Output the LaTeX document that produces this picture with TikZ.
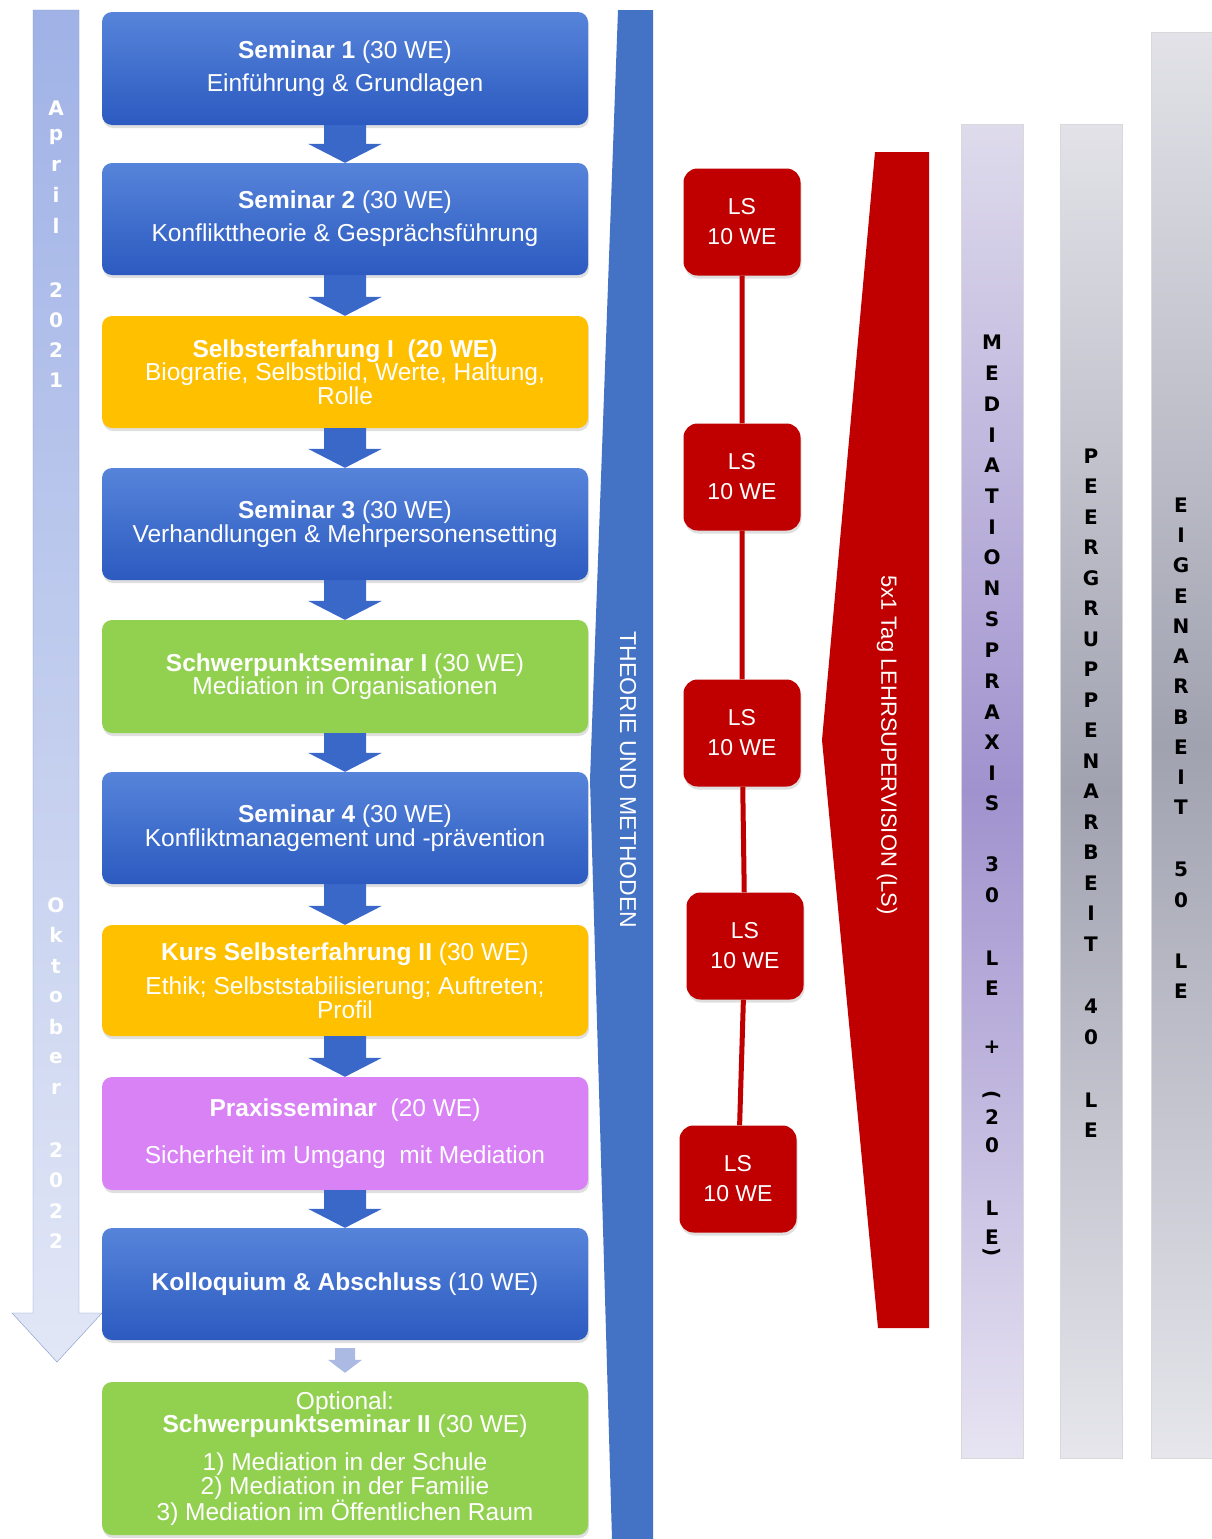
\documentclass[tikz,border=0pt]{standalone}
\usepackage{fontspec}
\setmainfont{Liberation Sans}
\newfontfamily\heavyfont{DejaVu Sans}
\usetikzlibrary{calc,shadows}
\definecolor{stagetop}{RGB}{86,132,218}
\definecolor{stagebot}{RGB}{44,90,192}
\definecolor{arrowblue}{RGB}{58,104,200}
\definecolor{fadeblue}{RGB}{170,186,226}
\definecolor{stageyellow}{RGB}{255,192,0}
\definecolor{stagegreen}{RGB}{146,208,80}
\definecolor{stagepurple}{RGB}{216,130,246}
\definecolor{lsred}{RGB}{192,0,0}
\definecolor{bandblue}{RGB}{68,114,196}
\definecolor{timetop}{RGB}{160,178,230}
\definecolor{timebot}{RGB}{226,231,246}
\definecolor{timeedge}{RGB}{130,150,205}
\definecolor{praxtop}{RGB}{222,219,236}
\definecolor{praxmid}{RGB}{160,146,206}
\definecolor{praxbot}{RGB}{231,228,242}
\definecolor{peertop}{RGB}{226,226,232}
\definecolor{peermid}{RGB}{160,162,176}
\definecolor{peerbot}{RGB}{230,230,236}

\newcommand\stagearrow[2]{%
\fill[arrowblue] let \p1=(#1.south), \p2=(#2.north) in
 (\x1-21pt,\y1) -- (\x1+21pt,\y1) -- (\x1+21pt,\y2+19pt) -- (\x1+37pt,\y2+19pt)
 -- (\x1,\y2) -- (\x1-37pt,\y2+19pt) -- (\x1-21pt,\y2+19pt) -- cycle;}
\newcommand\stack[4]{\foreach \c/\y [count=\i] in {#4} \node[#1] (#2\i) at (#3,\y) {\c};}
\newcommand\opnpar{\rotatebox[origin=c]{-90}{(}}
\newcommand\clspar{\rotatebox[origin=c]{-90}{)}}

\begin{document}
\begin{tikzpicture}[x=1pt,y=-1pt,
 stage/.style={rounded corners=10pt,minimum width=486pt,text=white,align=center,
   font=\fontsize{24.5}{23.5}\selectfont,
   drop shadow={opacity=.25,shadow xshift=1pt,shadow yshift=-3pt}},
 bluestage/.style={stage,top color=stagetop,bottom color=stagebot},
 yellowstage/.style={stage,fill=stageyellow},
 greenstage/.style={stage,fill=stagegreen},
 purplestage/.style={stage,fill=stagepurple},
 lsbox/.style={fill=lsred,rounded corners=14pt,minimum width=117pt,minimum height=107pt,
   text=white,align=center,font=\fontsize{23}{30}\selectfont,
   drop shadow={opacity=.25,shadow xshift=1pt,shadow yshift=-3pt}},
 stackchar/.style={inner sep=0pt,font=\heavyfont\fontsize{20}{20}\bfseries\selectfont},
 timechar/.style={stackchar,text=white}]
\fill[white] (0,0) rectangle (1212,1539);
\useasboundingbox (0,0) rectangle (1212,1539);

% timeline
\draw[timeedge,top color=timetop,bottom color=timebot] (33,10) -- (79,10) -- (79,1313) -- (102,1313)
 -- (57,1362) -- (12,1313) -- (33,1313) -- cycle;
\stack{timechar}{apr}{56}{A/108,p/137,r/166,i/195,l/226,2/290,0/320,2/350,1/380}
\stack{timechar}{okt}{56}{O/905,k/935,t/966,o/997,b/1027,e/1058,r/1089,2/1150,0/1180,2/1211,2/1241}

% theory band
\fill[bandblue] (618,10) -- (653,10) -- (653,1539) -- (612,1539) -- (590,780) -- cycle;
\node[text=white,rotate=-90,font=\fontsize{23}{23}\selectfont] (theorie) at (628,780) {THEORIE UND METHODEN};

\node[bluestage,minimum height=113pt] (sem1) at (345,68.5) {\textbf{Seminar 1} (30 WE)\\[9.5pt]Einführung \& Grundlagen};
\node[bluestage,minimum height=112pt] (sem2) at (345,219) {\textbf{Seminar 2} (30 WE)\\[9.5pt]Konflikttheorie \& Gesprächsführung};
\node[yellowstage,minimum height=112pt] (self1) at (345,372) {\textbf{Selbsterfahrung I\ \ (20 WE)}\\Biografie, Selbstbild, Werte, Haltung,\\Rolle};
\node[bluestage,minimum height=112pt] (sem3) at (345,524) {\textbf{Seminar 3} (30 WE)\\Verhandlungen \& Mehrpersonensetting};
\node[greenstage,minimum height=113pt] (focus1) at (345,676.5) {\textbf{Schwerpunktseminar I} (30 WE)\\Mediation in Organisationen};
\node[bluestage,minimum height=112pt] (sem4) at (345,828) {\textbf{Seminar 4} (30 WE)\\Konfliktmanagement und -prävention};
\node[yellowstage,minimum height=111pt] (self2) at (345,980.5) {\textbf{Kurs Selbsterfahrung II} (30 WE)\\[11pt]Ethik; Selbststabilisierung; Auftreten;\\Profil};
\node[purplestage,minimum height=113pt] (praxis) at (345,1133.5) {\textbf{Praxisseminar}\ \ (20 WE)\\[23.5pt]Sicherheit im Umgang\ \ mit Mediation};
\node[bluestage,minimum height=112pt] (kollo) at (345,1284) {\textbf{Kolloquium \& Abschluss} (10 WE)};
\node[greenstage,minimum height=153pt] (option) at (345,1458.5) {Optional:\\\textbf{Schwerpunktseminar II} (30 WE)\\[14.5pt]1) Mediation in der Schule\\2) Mediation in der Familie\\3) Mediation im Öffentlichen Raum};

\stagearrow{sem1}{sem2}
\stagearrow{sem2}{self1}
\stagearrow{self1}{sem3}
\stagearrow{sem3}{focus1}
\stagearrow{focus1}{sem4}
\stagearrow{sem4}{self2}
\stagearrow{self2}{praxis}
\stagearrow{praxis}{kollo}
\fill[fadeblue] let \p1=(kollo.south), \p2=(option.north) in
 (\x1-10pt,\y1-8pt) -- (\x1+10pt,\y1-8pt) -- (\x1+10pt,\y2+22pt) -- (\x1+17pt,\y2+22pt)
 -- (\x1,\y2+9pt) -- (\x1-17pt,\y2+22pt) -- (\x1-10pt,\y2+22pt) -- cycle;

% Lehrsupervision
\node[lsbox] (ls1) at (742,222) {LS\\10 WE};
\node[lsbox] (ls2) at (742,477) {LS\\10 WE};
\node[lsbox] (ls3) at (742,733) {LS\\10 WE};
\node[lsbox] (ls4) at (745,946) {LS\\10 WE};
\node[lsbox] (ls5) at (738,1179) {LS\\10 WE};
\draw[lsred,line width=5pt] (ls1) -- (ls2) -- (ls3) -- (ls4) -- (ls5);
\fill[lsred] (875,152) -- (929,152) -- (929,1328) -- (878,1328) -- (822,740) -- cycle;
\node[text=white,rotate=-90,font=\fontsize{22}{22}\selectfont] (lehrsup) at (887,745) {5x1 Tag LEHRSUPERVISION (LS)};

% praxis columns
\shade[top color=praxtop,bottom color=praxbot,middle color=praxmid,draw=black!15] (961,124) rectangle (1023,1458);
\shade[top color=peertop,bottom color=peerbot,middle color=peermid,draw=black!15] (1060,124) rectangle (1122,1458);
\shade[top color=peertop,bottom color=peerbot,middle color=peermid,draw=black!15] (1151,32) rectangle (1230,1458);
\stack{stackchar}{med}{992}{M/342,E/373,D/404,I/435,A/465,T/496,I/527,O/557,N/588,S/619,P/650,R/681,A/712,X/742,I/773,S/803,3/864,0/895,L/958,E/988,+/1047,\opnpar/1096,2/1117,0/1145,L/1208,E/1237,\clspar/1253}
\stack{stackchar}{peer}{1091}{P/456,E/486,E/517,R/547,G/578,R/608,U/639,P/669,P/700,E/730,N/761,A/791,R/822,B/852,E/883,I/913,T/944,4/1006,0/1037,L/1100,E/1130}
\stack{stackchar}{eigen}{1181}{E/505,I/535,G/565,E/596,N/626,A/656,R/686,B/717,E/747,I/777,T/807,5/869,0/900,L/961,E/991}
\end{tikzpicture}
\end{document}
